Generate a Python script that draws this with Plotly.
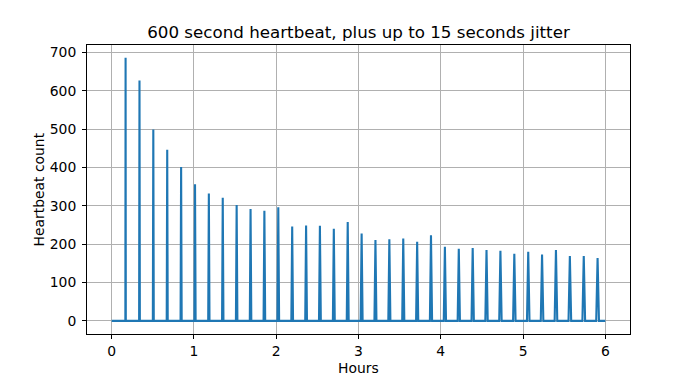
import plotly.graph_objects as go

# Spike centres (hours), peak heartbeat counts, and spike half-widths (seconds)
spike_hours = [0.169, 0.338, 0.506, 0.675, 0.844, 1.013, 1.181, 1.350, 1.519, 1.688,
               1.856, 2.025, 2.194, 2.363, 2.531, 2.700, 2.869, 3.038, 3.206, 3.375,
               3.544, 3.713, 3.881, 4.050, 4.219, 4.388, 4.556, 4.725, 4.894, 5.063,
               5.231, 5.400, 5.569, 5.738, 5.906]
spike_peaks = [686, 627, 499, 446, 401, 356, 332, 321, 302, 292,
               287, 296, 246, 249, 248, 240, 258, 228, 211, 213,
               215, 206, 223, 193, 188, 190, 185, 183, 175, 180,
               173, 185, 169, 169, 164]
spike_halfwidth_s = [10, 16, 20, 22, 24, 26, 28, 30, 32, 33,
                     35, 36, 37, 38, 40, 41, 42, 43, 44, 45,
                     46, 47, 48, 49, 50, 51, 52, 53, 54, 55,
                     56, 57, 58, 59, 60]
start_hour = 0.0
end_hour = 6.0

x_ticks = [0, 1, 2, 3, 4, 5, 6]
y_ticks = [0, 100, 200, 300, 400, 500, 600, 700]

xs = [start_hour]
ys = [0]
for c, p, hw in zip(spike_hours, spike_peaks, spike_halfwidth_s):
    h = hw / 3600.0
    xs += [c - h, c, c + h]
    ys += [0, p, 0]
xs.append(end_hour)
ys.append(0)

fig = go.Figure()
fig.add_trace(go.Scatter(x=xs, y=ys, mode="lines",
                         line=dict(color="#1f77b4", width=2.1), showlegend=False))

fnt = "DejaVu Sans"
fig.update_layout(
    width=700, height=375,
    margin=dict(l=87, r=70, t=45, b=41),
    paper_bgcolor="white", plot_bgcolor="white",
    font=dict(family=fnt, size=14, color="black"),
    title=dict(text="600 second heartbeat, plus up to 15 seconds jitter",
               x=0.5, xref="paper", xanchor="center",
               y=1, yref="paper", yanchor="bottom", pad=dict(b=7),
               font=dict(family=fnt, size=16.7, color="black")),
)
axis_common = dict(showline=True, mirror=True, linecolor="black", linewidth=1,
                   showgrid=True, gridcolor="#b0b0b0", gridwidth=0.8,
                   zeroline=False, ticks="outside", ticklen=4, tickwidth=1,
                   tickcolor="black", automargin=False,
                   tickfont=dict(family=fnt, size=13.9, color="black"))
fig.update_xaxes(range=[-0.3, 6.3], tickvals=x_ticks, ticklabelstandoff=0,
                 **axis_common)
fig.update_yaxes(range=[-34.3, 719.5], tickvals=y_ticks, ticklabelstandoff=3,
                 **axis_common)

# Axis titles placed as annotations
fig.add_annotation(text="Hours", xref="paper", yref="paper", x=0.5, y=0,
                   xanchor="center", yanchor="middle", yshift=-34, showarrow=False,
                   font=dict(family=fnt, size=13.9, color="black"))
fig.add_annotation(text="Heartbeat count", xref="paper", yref="paper", x=0, y=0.5,
                   xanchor="center", yanchor="middle", xshift=-49, textangle=-90,
                   showarrow=False, font=dict(family=fnt, size=13.9, color="black"))

fig.write_html("out.html")
